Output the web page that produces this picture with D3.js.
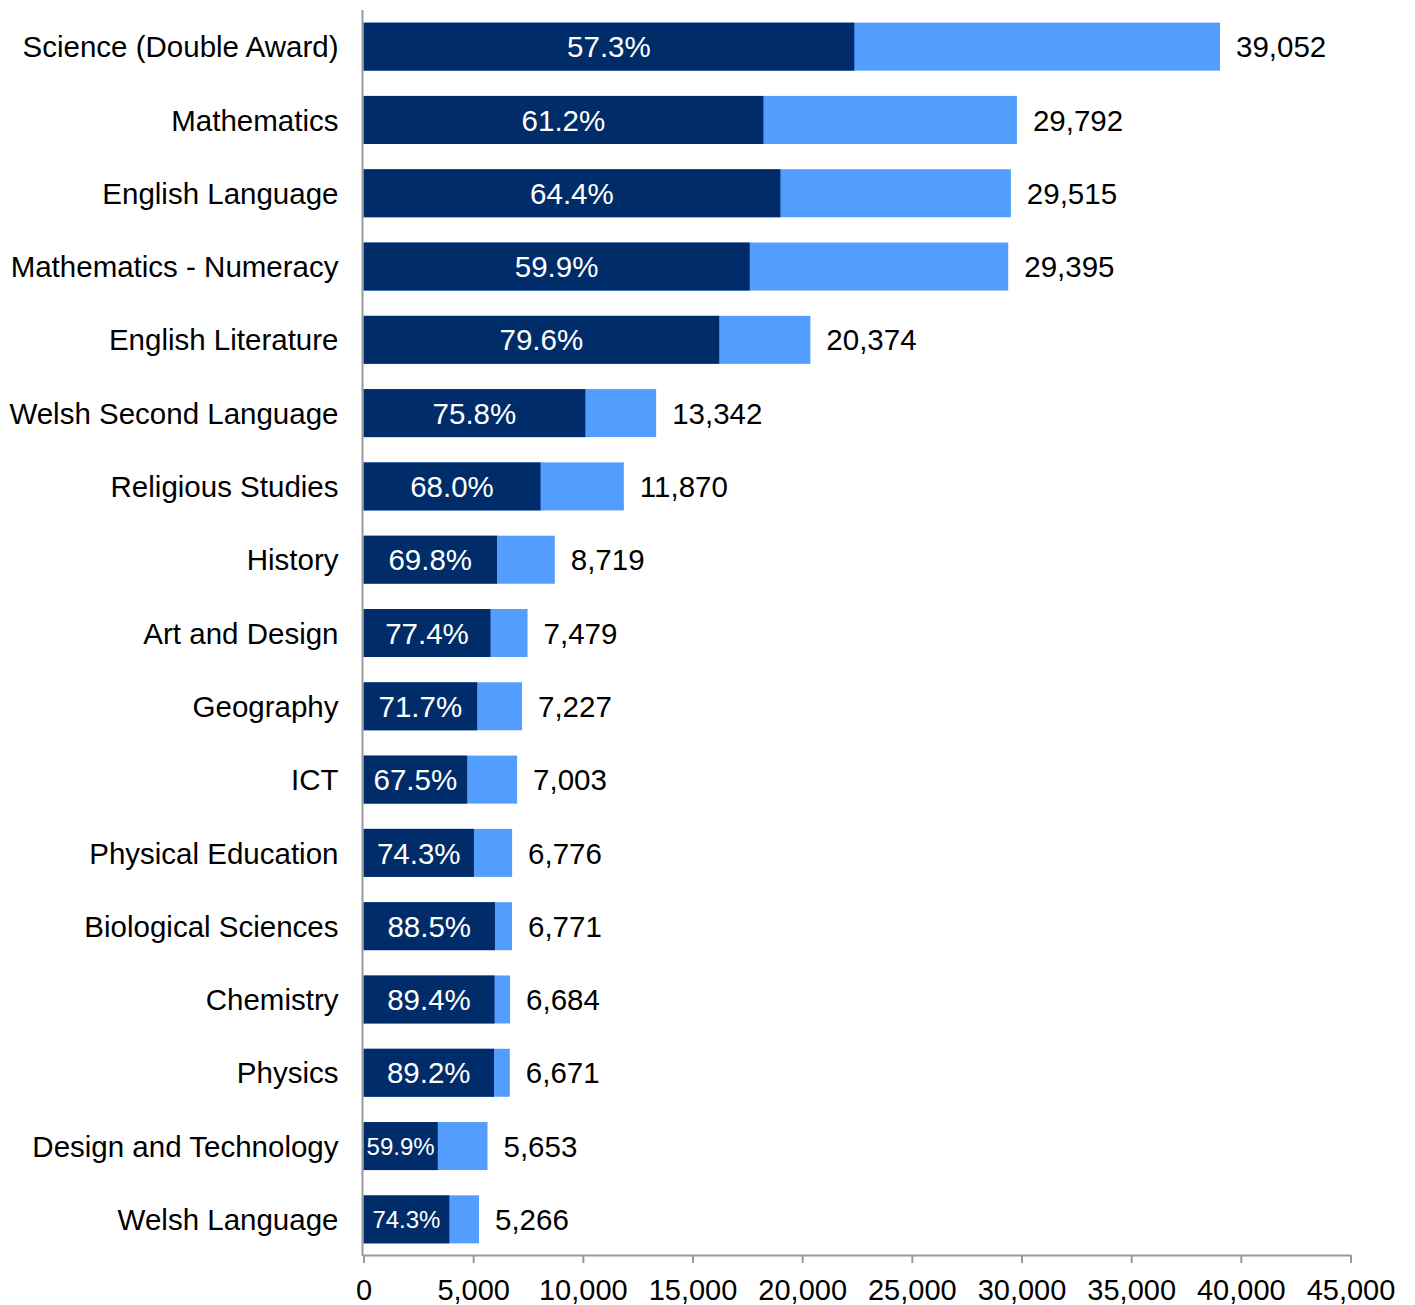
<!DOCTYPE html>
<html>
<head>
<meta charset="utf-8">
<script src="https://cdn.jsdelivr.net/npm/d3@7"></script>
<style>
  html, body { margin: 0; padding: 0; background: #fff; }
  svg { display: block; font-family: "Liberation Sans", Arial, sans-serif; }
</style>
</head>
<body>
<svg id="chart" width="1415" height="1305"></svg>
<script>
const categories = [
  "Science (Double Award)", "Mathematics", "English Language", "Mathematics - Numeracy",
  "English Literature", "Welsh Second Language", "Religious Studies", "History",
  "Art and Design", "Geography", "ICT", "Physical Education", "Biological Sciences",
  "Chemistry", "Physics", "Design and Technology", "Welsh Language"
];
const totals = [39052, 29792, 29515, 29395, 20374, 13342, 11870, 8719, 7479, 7227, 7003, 6776, 6771, 6684, 6671, 5653, 5266];
const percents = [57.3, 61.2, 64.4, 59.9, 79.6, 75.8, 68.0, 69.8, 77.4, 71.7, 67.5, 74.3, 88.5, 89.4, 89.2, 59.9, 74.3];
const xTicks = [0, 5000, 10000, 15000, 20000, 25000, 30000, 35000, 40000, 45000];

(function () {
const svg = d3.select("#chart");
const mLeft = 363.5, mRight = 1350.5, mTop = 10, mBottom = 1256;
const x = d3.scaleLinear().domain([0, 45000]).range([mLeft, mRight]);
const y = d3.scaleBand().domain(categories).range([mTop, mBottom]).paddingInner(0.345).paddingOuter(0.1725);

const dark = "#002D69", light = "#539DFF";
const fs = 29.5;
const rows = categories.map((c, i) => ({ c, total: totals[i], pct: percents[i], part: totals[i] * percents[i] / 100 }));

const g = svg.append("g");
g.selectAll("rect.light").data(rows).join("rect")
  .attr("class", "light")
  .attr("x", x(0)).attr("y", d => y(d.c))
  .attr("width", d => x(d.total) - x(0)).attr("height", y.bandwidth())
  .attr("fill", light);
g.selectAll("rect.dark").data(rows).join("rect")
  .attr("class", "dark")
  .attr("x", x(0)).attr("y", d => y(d.c))
  .attr("width", d => x(d.part) - x(0)).attr("height", y.bandwidth())
  .attr("fill", dark);

g.selectAll("text.pct").data(rows).join("text")
  .attr("class", "pct")
  .attr("x", d => (x(0) + x(d.part)) / 2)
  .attr("y", d => y(d.c) + y.bandwidth() / 2)
  .attr("dy", "0.36em")
  .attr("text-anchor", "middle")
  .attr("fill", "#fff")
  .attr("font-size", d => (x(d.part) - x(0)) < 90 ? 24 : fs)
  .text(d => d.pct.toFixed(1) + "%");

g.selectAll("text.tot").data(rows).join("text")
  .attr("class", "tot")
  .attr("x", d => x(d.total) + 16)
  .attr("y", d => y(d.c) + y.bandwidth() / 2)
  .attr("dy", "0.36em")
  .attr("fill", "#000")
  .attr("font-size", fs)
  .text(d => d3.format(",")(d.total));

g.selectAll("text.cat").data(rows).join("text")
  .attr("class", "cat")
  .attr("x", mLeft - 25)
  .attr("y", d => y(d.c) + y.bandwidth() / 2)
  .attr("dy", "0.36em")
  .attr("text-anchor", "end")
  .attr("fill", "#000")
  .attr("font-size", fs)
  .text(d => d.c);

const xAxis = d3.axisBottom(x).tickValues(xTicks).tickFormat(d3.format(",")).tickSize(8).tickPadding(16).tickSizeOuter(0);
const ax = svg.append("g").attr("transform", `translate(0,${mBottom - 1})`).call(xAxis);
ax.select(".domain").attr("stroke", "#999").attr("stroke-width", 2);
ax.selectAll(".tick line").attr("stroke", "#999").attr("stroke-width", 2);
ax.selectAll(".tick text").attr("fill", "#000").attr("font-size", 29).attr("font-family", "Liberation Sans, Arial, sans-serif");

svg.append("line")
  .attr("x1", mLeft - 1).attr("x2", mLeft - 1)
  .attr("y1", mTop).attr("y2", mBottom)
  .attr("stroke", "#999").attr("stroke-width", 2);
})();
</script>
</body>
</html>
